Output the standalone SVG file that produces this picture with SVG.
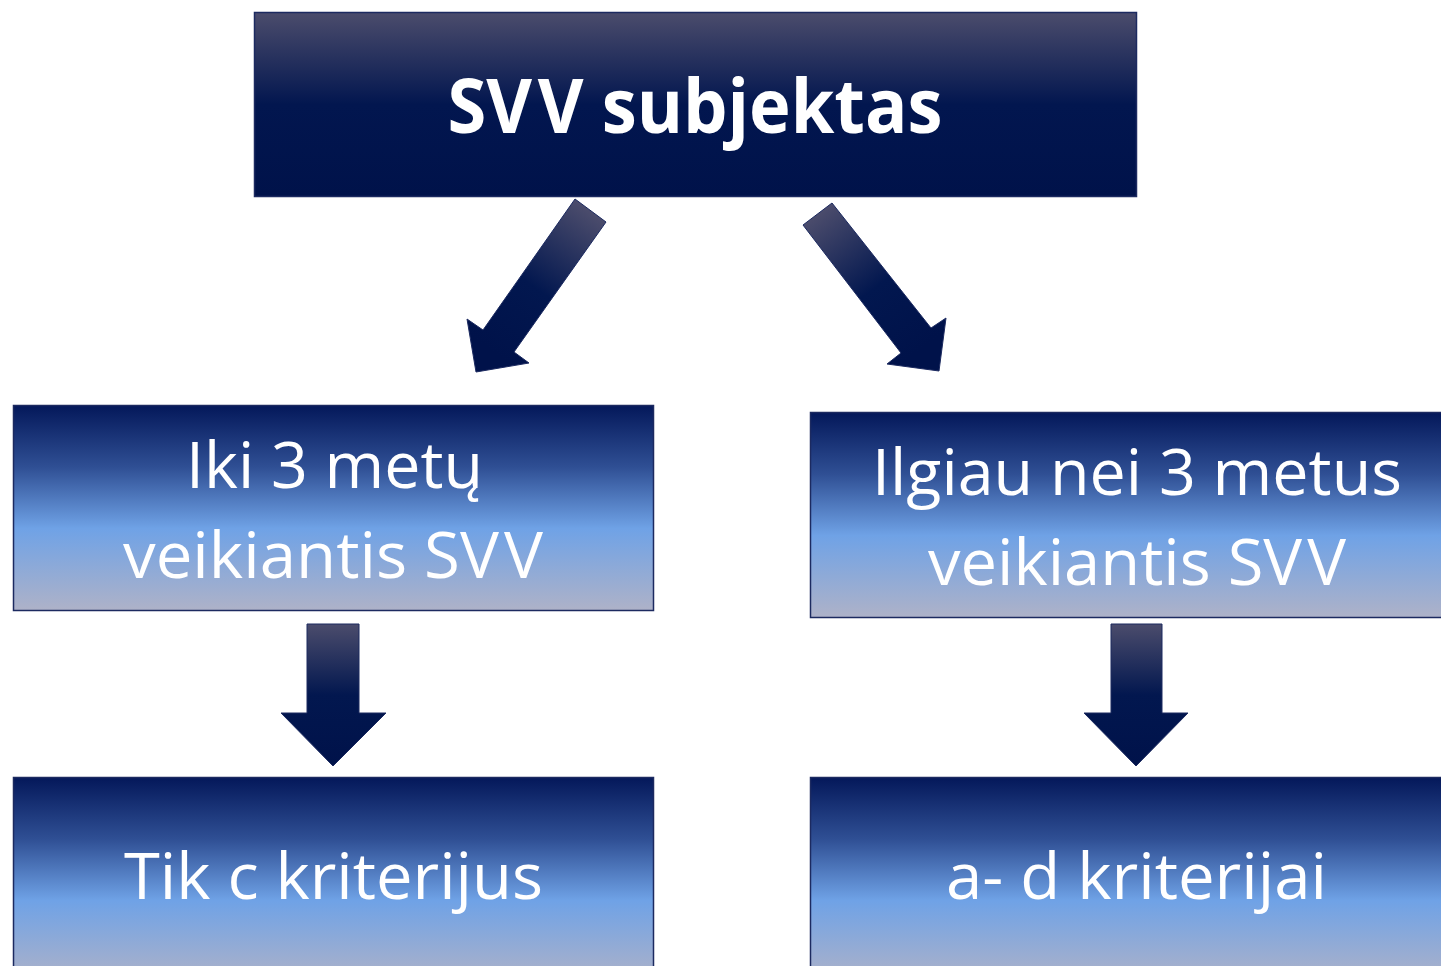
<svg xmlns="http://www.w3.org/2000/svg" width="1441" height="966" viewBox="0 0 1441 966">
<defs>
<linearGradient id="gDark" x1="0" y1="0" x2="0" y2="1">
<stop offset="0" stop-color="#4b4c6c"/>
<stop offset="0.5" stop-color="#02164f"/>
<stop offset="1" stop-color="#00124a"/>
</linearGradient>
<linearGradient id="gLight" x1="0" y1="0" x2="0" y2="1">
<stop offset="0" stop-color="#04185a"/>
<stop offset="0.3" stop-color="#2f4f94"/>
<stop offset="0.6" stop-color="#6fa2e6"/>
<stop offset="1" stop-color="#aeb2c8"/>
</linearGradient>
<linearGradient id="gArrL" gradientUnits="userSpaceOnUse" x1="590" y1="211" x2="490" y2="350">
<stop offset="0" stop-color="#4b4c6c"/>
<stop offset="0.55" stop-color="#02174f"/>
<stop offset="1" stop-color="#00124a"/>
</linearGradient>
<linearGradient id="gArrR" gradientUnits="userSpaceOnUse" x1="817" y1="214" x2="920" y2="350">
<stop offset="0" stop-color="#4b4c6c"/>
<stop offset="0.55" stop-color="#02174f"/>
<stop offset="1" stop-color="#00124a"/>
</linearGradient>
<linearGradient id="gArrD" x1="0" y1="0" x2="0" y2="1">
<stop offset="0" stop-color="#4b4c6c"/>
<stop offset="0.5" stop-color="#02174f"/>
<stop offset="1" stop-color="#00124a"/>
</linearGradient>
</defs>
<style>
.box{stroke:#1c2a60;stroke-width:1.5}
.arr{stroke:#1c2a60;stroke-width:1}
.t{font-family:"Open Sans","Noto Sans","DejaVu Sans",sans-serif;fill:#ffffff;text-anchor:middle;font-kerning:none}
.big{font-size:64px}
.title{font-size:76px;font-weight:bold}
</style>
<g id="node-top">
<rect class="box" x="254.5" y="12.5" width="882" height="184" fill="url(#gDark)"/>
<text class="t title" x="695" y="133" textLength="495" lengthAdjust="spacingAndGlyphs">SV<tspan dx="6">V subjektas</tspan></text>
</g>
<g id="node-mid-left">
<rect class="box" x="13.5" y="405.5" width="640" height="205" fill="url(#gLight)"/>
<text class="t big" x="334.5" y="488" textLength="297" lengthAdjust="spacingAndGlyphs">Iki 3 metų</text>
<text class="t big" x="333" y="578" textLength="420" lengthAdjust="spacingAndGlyphs">veikiantis SV<tspan dx="5">V</tspan></text>
</g>
<g id="node-mid-right">
<rect class="box" x="810.5" y="412.5" width="640" height="205" fill="url(#gLight)"/>
<text class="t big" x="1137" y="495" textLength="530" lengthAdjust="spacingAndGlyphs">Ilgiau nei 3 metus</text>
<text class="t big" x="1137" y="585" textLength="418" lengthAdjust="spacingAndGlyphs">veikiantis SV<tspan dx="5">V</tspan></text>
</g>
<g id="node-bot-left">
<rect class="box" x="13.5" y="777.5" width="640" height="205" fill="url(#gLight)"/>
<text class="t big" x="333.5" y="899" textLength="419" lengthAdjust="spacingAndGlyphs">Tik c kriterijus</text>
</g>
<g id="node-bot-right">
<rect class="box" x="810.5" y="777.5" width="640" height="205" fill="url(#gLight)"/>
<text class="t big" x="1136.5" y="899" textLength="381" lengthAdjust="spacingAndGlyphs">a- d kriterijai</text>
</g>
<g id="connectors">
<polygon class="arr" fill="url(#gArrL)" points="575,199 606,222 514,352 529,363 476,372 467,319 483,330"/>
<polygon class="arr" fill="url(#gArrR)" points="832,203 803,225 901,353 887,364 939,371 946,318 931,328"/>
<polygon class="arr" fill="url(#gArrD)" points="307,624 359,624 359,713 386,713 333,766 281,713 307,713"/>
<polygon class="arr" fill="url(#gArrD)" points="1111,624 1162,624 1162,713 1188,713 1136,766 1084,713 1111,713"/>
</g>
</svg>
